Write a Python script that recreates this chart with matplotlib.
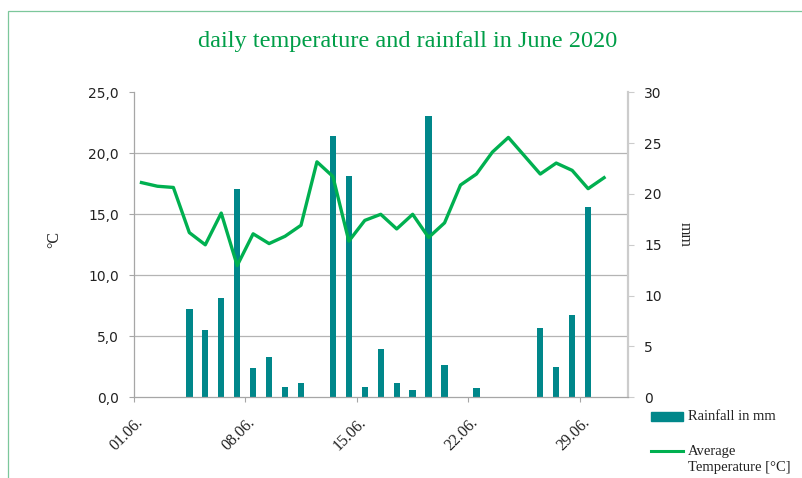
import matplotlib
matplotlib.use("Agg")
import matplotlib.pyplot as plt
from matplotlib.patches import Rectangle
from matplotlib.lines import Line2D
from matplotlib.transforms import ScaledTranslation

# daily values for June 2020
days = list(range(1, 31))
rain_mm = [0, 0, 0, 8.7, 6.6, 9.8, 20.5, 2.9, 4.0, 1.0,
           1.4, 0, 25.7, 21.8, 1.0, 4.8, 1.4, 0.7, 27.7, 3.2,
           0, 0.9, 0, 0, 0, 6.8, 3.0, 8.1, 18.7, 0]
temp_c = [17.6, 17.3, 17.2, 13.5, 12.5, 15.1, 10.8, 13.4, 12.6, 13.2,
          14.1, 19.3, 18.1, 12.8, 14.5, 15.0, 13.8, 15.0, 13.1, 14.3,
          17.4, 18.3, 20.1, 21.3, 19.8, 18.3, 19.2, 18.6, 17.1, 18.0]

tick_days = [1, 8, 15, 22, 29]
tick_labels = ['01.06.', '08.06.', '15.06.', '22.06.', '29.06.']
temp_ticks = [0, 5, 10, 15, 20, 25]
temp_labels = ['0,0', '5,0', '10,0', '15,0', '20,0', '25,0']
rain_ticks = [0, 5, 10, 15, 20, 25, 30]

bar_color = '#00878a'
line_color = '#00b050'
title_color = '#009e48'
text_color = '#222222'
grid_color = '#b4b4b4'
serif = 'Liberation Serif'

W, H = 802, 478


def fx(px):
    return px / W


def fy(py):
    return 1 - py / H


fig = plt.figure(figsize=(W / 100, H / 100), dpi=100)

left, right, top, bottom = 133.5, 628, 92.3, 397.3
ax_r = fig.add_axes([fx(left), fy(bottom), fx(right) - fx(left), fy(top) - fy(bottom)])
ax_t = ax_r.twinx()
ax_r.yaxis.tick_right()
ax_t.yaxis.tick_left()
ax_t.set_zorder(ax_r.get_zorder() + 1)
ax_t.patch.set_visible(False)

# rainfall bars (right axis)
ax_r.bar(days, rain_mm, width=0.4, color=bar_color, zorder=2)
ax_r.set_ylim(0, 30)
ax_r.set_xlim(0.5, 31.5)
ax_r.set_yticks(rain_ticks)
ax_r.set_yticklabels([str(v) for v in rain_ticks])

# gridlines follow the temperature axis, drawn behind the bars
ax_r.set_yticks([v * 30 / 25 for v in temp_ticks], minor=True)
ax_r.set_axisbelow(True)
ax_r.grid(True, which='minor', axis='y', color=grid_color, lw=0.9)
ax_r.tick_params(axis='y', which='minor', length=0)

# temperature line (left axis)
ax_t.plot(days, temp_c, color=line_color, lw=2.4, zorder=3)
ax_t.set_ylim(0, 25)
ax_t.set_yticks(temp_ticks)
ax_t.set_yticklabels(temp_labels)

for a in (ax_r, ax_t):
    for s in a.spines.values():
        s.set_visible(False)
ax_t.spines['left'].set_visible(True)
ax_t.spines['left'].set_color('#a6a6a6')
ax_t.spines['left'].set_linewidth(0.9)
ax_r.spines['right'].set_visible(True)
ax_r.spines['right'].set_color('#cccccc')
ax_r.spines['right'].set_linewidth(1.6)
ax_r.spines['bottom'].set_visible(True)
ax_r.spines['bottom'].set_color('#a6a6a6')
ax_r.spines['bottom'].set_linewidth(0.9)

ax_t.tick_params(axis='y', length=3.6, width=0.8, color='#a6a6a6', pad=6.8,
                 labelsize=10, labelcolor=text_color)
ax_r.tick_params(axis='y', which='major', length=4.3, width=0.8, color='#cccccc',
                 pad=7.2, labelsize=10, labelcolor=text_color)

ax_r.set_xticks([d - 0.5 for d in tick_days])
ax_r.set_xticklabels(tick_labels, rotation=45, ha='right', va='center',
                     rotation_mode='anchor', fontfamily=serif, fontsize=11.5,
                     color=text_color)
ax_r.tick_params(axis='x', length=3.6, width=0.8, color='#a6a6a6', pad=12.5)
shift = ScaledTranslation(0.07, 0, fig.dpi_scale_trans)
for lbl in ax_r.get_xticklabels():
    lbl.set_transform(lbl.get_transform() + shift)

# axis titles
fig.text(fx(54), fy(240), '°C', rotation=90, ha='center', va='center',
         fontfamily=serif, fontsize=11.5, color=text_color)
fig.text(fx(685), fy(235), 'mm', rotation=-90, ha='center', va='center',
         fontfamily=serif, fontsize=11.5, color=text_color)

fig.text(fx(408), fy(41), 'daily temperature and rainfall in June 2020',
         ha='center', va='center', fontfamily=serif, fontsize=17.5,
         color=title_color)

# outer frame of the chart area
fig.add_artist(Rectangle((fx(8), -0.05), 1.0, fy(11) + 0.05,
                         transform=fig.transFigure, fill=False,
                         edgecolor='#7cc79b', lw=0.9))

# legend
fig.add_artist(Rectangle((fx(651), fy(421)), fx(683) - fx(651), fy(412) - fy(421),
                         transform=fig.transFigure, color=bar_color))
fig.add_artist(Line2D([fx(651), fx(683)], [fy(451), fy(451)],
                      transform=fig.transFigure, color=line_color, lw=2.2))
fig.text(fx(688), fy(416), 'Rainfall in mm', va='center', fontfamily=serif,
         fontsize=10.5, color=text_color)
fig.text(fx(688), fy(452), 'Average', va='center', fontfamily=serif,
         fontsize=10.5, color=text_color)
fig.text(fx(688), fy(468), 'Temperature [°C]', va='center', fontfamily=serif,
         fontsize=10.5, color=text_color)

fig.savefig('out.png', dpi=100)
